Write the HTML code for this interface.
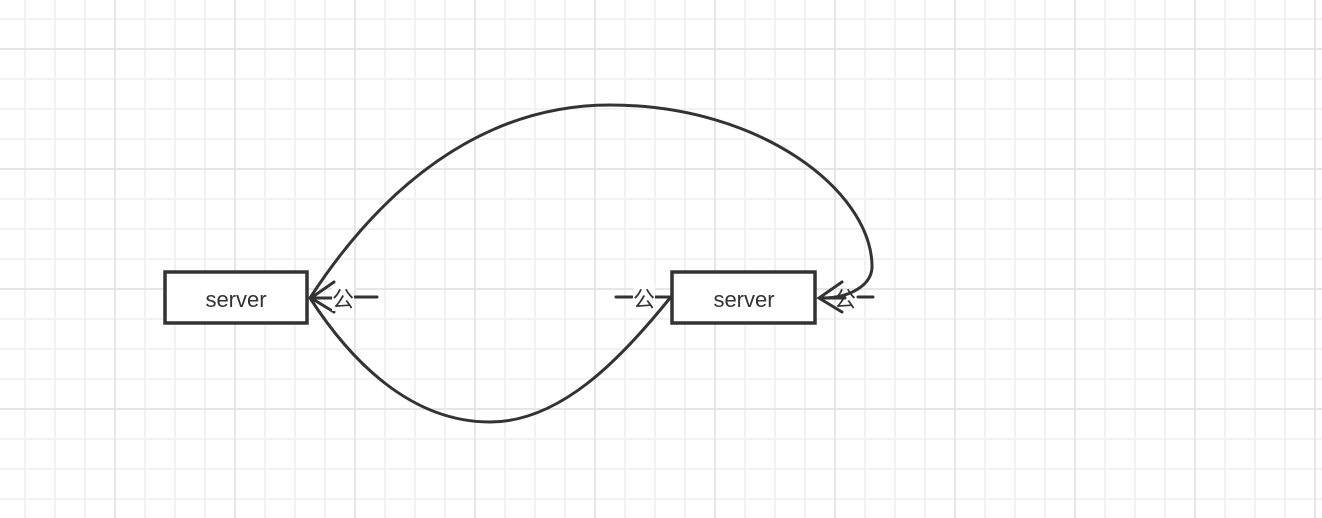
<!DOCTYPE html>
<html><head><style>
body{margin:0;width:1322px;height:518px;overflow:hidden;background:#fff;
background-image:
linear-gradient(90deg,#e6e6e6 2px,transparent 2px),
linear-gradient(0deg,#e6e6e6 2px,transparent 2px),
linear-gradient(90deg,#f2f2f2 2px,transparent 2px),
linear-gradient(0deg,#f2f2f2 2px,transparent 2px);
background-size:120px 120px,120px 120px,30px 30px,30px 30px;
background-position:114px 0,0 50px,24px 0,0 20px;}
</style></head><body>
<svg width="1322" height="518" style="position:absolute;left:0;top:0" font-family="Liberation Sans, Noto Sans CJK SC, sans-serif">
<g fill="none" stroke="#333" stroke-width="3" stroke-linecap="round">
<path d="M310,298 C380,190 480,105 610,105 C760,105 870,190 872,265 C873,285 850,298 822,298"/>
<path d="M670,298 C620,360 560,422 490,422 C410,422 350,360 310,298"/>
<path d="M334,282 L311,298 L334,312 M311,298 L336,298"/>
<path d="M842,282 L819,298 L842,312 M819,298 L845,298"/>
<path d="M355,297 L377,297 M616,297 L632,297 M655,297 L670,297 M858,297 L873,297"/>
</g>
<rect x="165" y="272" width="142" height="51" fill="#fff" stroke="#333" stroke-width="3.5"/>
<rect x="672" y="272" width="143" height="51" fill="#fff" stroke="#333" stroke-width="3.5"/>
<text x="236" y="307" font-size="22" text-anchor="middle" fill="#333">server</text>
<text x="744" y="307" font-size="22" text-anchor="middle" fill="#333">server</text>
<g font-size="22" fill="#333" text-anchor="middle">
<rect x="332" y="285" width="22" height="26" fill="#fff"/><text x="343" y="307">公</text>
<rect x="633" y="285" width="22" height="26" fill="#fff"/><text x="644" y="307">公</text>
<text x="845" y="307">公</text>
</g>
</svg>
</body></html>
